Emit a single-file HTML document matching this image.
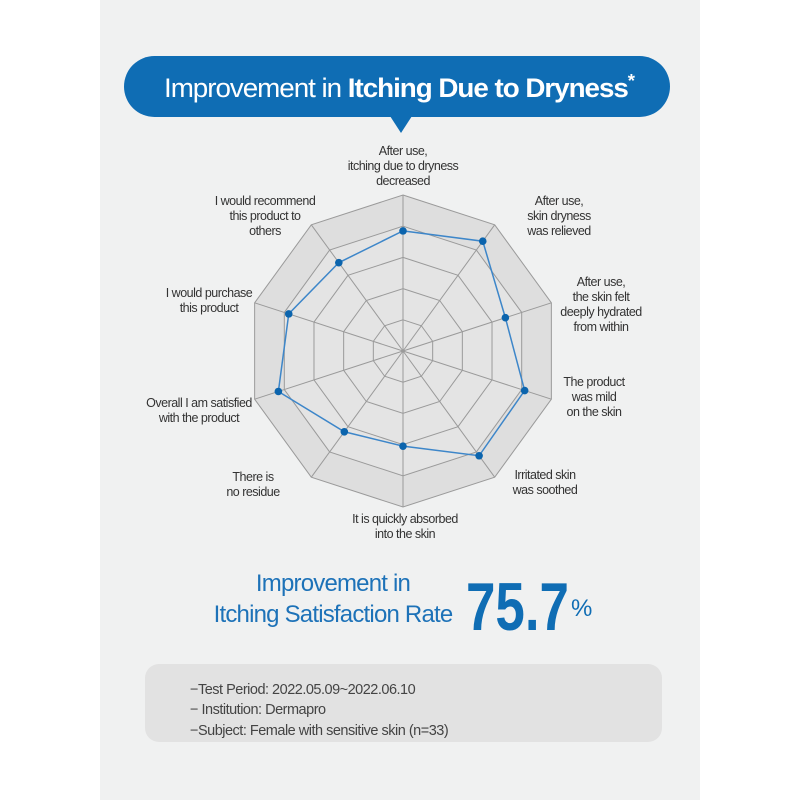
<!DOCTYPE html>
<html><head><meta charset="utf-8"><style>
html,body{margin:0;padding:0;background:#fff;}
body{width:800px;height:800px;position:relative;overflow:hidden;font-family:"Liberation Sans",sans-serif;}
#panel{position:absolute;left:100px;top:0;width:600px;height:800px;background:#f0f1f1;}
svg{position:absolute;left:0;top:0;}
</style></head><body>
<div id="panel"></div>
<svg width="800" height="800">
  <g>
    <rect x="124" y="56" width="546" height="61" rx="30.5" fill="#0f6db4"/>
    <polygon points="390,116 412,116 401,133" fill="#0f6db4"/>
    <text x="164" y="97" fill="#fff" font-size="27" letter-spacing="-1" textLength="470" lengthAdjust="spacingAndGlyphs"><tspan font-weight="300">Improvement in </tspan><tspan font-weight="bold">Itching Due to Dryness</tspan><tspan font-size="18" dy="-10" font-weight="bold">*</tspan></text>
  </g>
  <g id="radar"></g>
  <g fill="#1d72b8">
    <text x="333" y="591" text-anchor="middle" font-size="24" letter-spacing="-0.8">Improvement in</text>
    <text x="333" y="622" text-anchor="middle" font-size="24" letter-spacing="-0.8">Itching Satisfaction Rate</text>
    <text x="466" y="630" font-size="68" font-weight="bold" fill="#0f6db4" textLength="103" lengthAdjust="spacingAndGlyphs">75.7</text>
    <text x="571" y="616" font-size="24" fill="#0f6db4">%</text>
  </g>
  <g>
    <rect x="145" y="664" width="517" height="78" rx="14" fill="#e2e2e2"/>
    <text x="190" y="694" font-size="14.5" fill="#444" letter-spacing="-0.5">−Test Period: 2022.05.09~2022.06.10</text>
    <text x="190" y="714" font-size="14.5" fill="#444" letter-spacing="-0.5">− Institution: Dermapro</text>
    <text x="190" y="735" font-size="14.5" fill="#444" letter-spacing="-0.5">−Subject: Female with sensitive skin (n=33)</text>
  </g>
</svg>
<script>
const categories = [
  ["After use,","itching due to dryness","decreased"],
  ["After use,","skin dryness","was relieved"],
  ["After use,","the skin felt","deeply hydrated","from within"],
  ["The product","was mild","on the skin"],
  ["Irritated skin","was soothed"],
  ["It is quickly absorbed","into the skin"],
  ["There is","no residue"],
  ["Overall I am satisfied","with the product"],
  ["I would purchase","this product"],
  ["I would recommend","this product to","others"]
];
const values = [3.85, 4.35, 3.45, 4.1, 4.15, 3.05, 3.2, 4.2, 3.85, 3.5];
const maxValue = 5;
const ringLevels = [1, 2, 3, 4, 5];

const NS = "http://www.w3.org/2000/svg";
const g = document.getElementById("radar");
const cx = 403, cy = 351, R = 156;
const N = categories.length;
function ang(i){ return -Math.PI/2 + i*2*Math.PI/N; }
function pt(i, v){ const r = v/maxValue*R; return [cx + r*Math.cos(ang(i)), cy + r*Math.sin(ang(i))]; }
function mk(tag, attrs){ const e = document.createElementNS(NS, tag); for (const k in attrs) e.setAttribute(k, attrs[k]); g.appendChild(e); return e; }

for (let li = ringLevels.length-1; li >= 0; li--) {
  const lv = ringLevels[li];
  const pts = categories.map((_, i) => pt(i, lv).join(",")).join(" ");
  const ring = mk("polygon", {points: pts, fill: li === ringLevels.length-1 ? "#dedede" : "#e4e4e4", stroke: "#9a9a9a", "stroke-width": 1});
  
  
}
categories.forEach((_, i) => {
  const [x, y] = pt(i, maxValue);
  const sp = mk("line", {x1: cx, y1: cy, x2: x, y2: y, stroke: "#9a9a9a", "stroke-width": 1});
  
  
});
const series = mk("polygon", {points: values.map((v, i) => pt(i, v).join(",")).join(" "), fill: "none", stroke: "#3d86c9", "stroke-width": 1.5});


values.forEach((v, i) => {
  const [x, y] = pt(i, v);
  const d = mk("circle", {cx: x, cy: y, r: 3.8, fill: "#0b64ad"});
  
  
});
const labelPos = [[403,155],[559,205],[601,286],[594,386],[545,479],[405,523],[253,481],[199,407],[209,297],[265,205]];
categories.forEach((lines, i) => {
  const [lx, ly] = labelPos[i];
  const t = mk("text", {x: lx, y: ly, "text-anchor": "middle", "font-size": 12.5, fill: "#333", "letter-spacing": "-0.5"});
  
  
  lines.forEach((s, k) => {
    const ts = document.createElementNS(NS, "tspan");
    ts.setAttribute("x", lx);
    ts.setAttribute("dy", k === 0 ? 0 : 15);
    ts.textContent = s;
    t.appendChild(ts);
  });
});
</script>
</body></html>
